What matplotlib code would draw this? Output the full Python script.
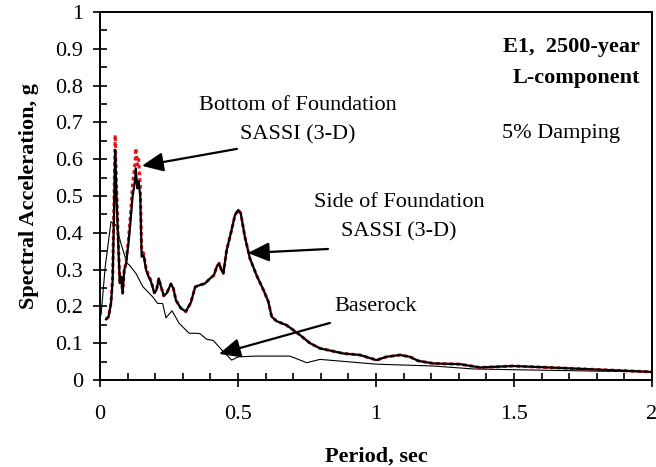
import matplotlib
matplotlib.use("Agg")
import matplotlib.pyplot as plt
from matplotlib.ticker import MultipleLocator

plt.rcParams["font.family"] = ["Liberation Serif", "DejaVu Serif"]
plt.rcParams["font.size"] = 16

# response spectra, 5% damping
periods = [0.022, 0.031, 0.040, 0.046, 0.052, 0.055, 0.060, 0.068, 0.072, 0.077,
           0.082, 0.088, 0.094, 0.103, 0.110, 0.118, 0.127, 0.130, 0.135, 0.140,
           0.146, 0.151, 0.158, 0.167, 0.176, 0.185, 0.197, 0.205, 0.213, 0.221,
           0.231, 0.242, 0.257, 0.266, 0.275, 0.293, 0.311, 0.329, 0.345, 0.362,
           0.380, 0.399, 0.413, 0.423, 0.432, 0.441, 0.447, 0.459, 0.477, 0.489,
           0.501, 0.510, 0.525, 0.543, 0.567, 0.592, 0.610, 0.622, 0.640, 0.676,
           0.700, 0.725, 0.761, 0.797, 0.840, 0.882, 0.942, 1.002, 1.038, 1.087,
           1.123, 1.153, 1.208, 1.304, 1.377, 1.497, 1.594, 1.691, 1.812, 2.000]

side_sa = [0.165, 0.172, 0.208, 0.272, 0.498, 0.625, 0.498, 0.335, 0.263, 0.281,
           0.236, 0.299, 0.313, 0.371, 0.426, 0.498, 0.543, 0.575, 0.521, 0.540,
           0.498, 0.335, 0.339, 0.299, 0.281, 0.267, 0.236, 0.245, 0.276, 0.254,
           0.229, 0.236, 0.261, 0.249, 0.217, 0.195, 0.186, 0.210, 0.253, 0.258,
           0.262, 0.276, 0.285, 0.308, 0.317, 0.297, 0.290, 0.353, 0.408, 0.448,
           0.462, 0.453, 0.389, 0.331, 0.285, 0.245, 0.213, 0.172, 0.160, 0.149,
           0.136, 0.122, 0.100, 0.086, 0.079, 0.072, 0.068, 0.054, 0.063, 0.068,
           0.063, 0.052, 0.045, 0.043, 0.034, 0.038, 0.035, 0.032, 0.028, 0.022]

bottom_sa = [0.165, 0.172, 0.210, 0.285, 0.530, 0.666, 0.525, 0.345, 0.263, 0.281,
             0.236, 0.299, 0.318, 0.380, 0.445, 0.530, 0.590, 0.630, 0.585, 0.600,
             0.530, 0.350, 0.345, 0.305, 0.285, 0.270, 0.238, 0.245, 0.276, 0.254,
             0.229, 0.236, 0.261, 0.249, 0.217, 0.195, 0.186, 0.210, 0.253, 0.258,
             0.262, 0.276, 0.285, 0.308, 0.317, 0.297, 0.290, 0.353, 0.408, 0.448,
             0.462, 0.453, 0.389, 0.331, 0.285, 0.245, 0.213, 0.172, 0.160, 0.149,
             0.136, 0.122, 0.100, 0.086, 0.079, 0.072, 0.068, 0.054, 0.063, 0.068,
             0.063, 0.052, 0.045, 0.043, 0.034, 0.038, 0.035, 0.032, 0.028, 0.022]

base_periods = [0.004, 0.019, 0.040, 0.058, 0.076, 0.098, 0.106, 0.130, 0.155, 0.191,
                0.209, 0.227, 0.239, 0.261, 0.287, 0.323, 0.348, 0.362, 0.386, 0.411,
                0.441, 0.477, 0.501, 0.567, 0.688, 0.749, 0.797, 1.002, 1.208, 1.353,
                1.497, 1.810, 2.000]
base_sa = [0.177, 0.308, 0.430, 0.421, 0.371, 0.317, 0.313, 0.290, 0.254, 0.226,
           0.208, 0.208, 0.169, 0.188, 0.154, 0.127, 0.127, 0.126, 0.111, 0.107,
           0.082, 0.054, 0.063, 0.065, 0.065, 0.047, 0.056, 0.043, 0.038, 0.030,
           0.028, 0.024, 0.022]

fig = plt.figure(figsize=(6.56, 4.67), dpi=100)
ax = fig.add_axes([0.1524, 0.1863, 0.8415, 0.788])

ax.plot(base_periods, base_sa, color="black", lw=0.8)
ax.plot(periods, bottom_sa, color="#e8121b", lw=2.2, ls=(0, (1.2, 1.0)))
ax.plot(periods, side_sa, color="black", lw=1.6)

ax.set_xlim(0, 2)
ax.set_ylim(0, 1)
ax.xaxis.set_major_locator(MultipleLocator(0.5))
ax.xaxis.set_minor_locator(MultipleLocator(0.1))
ax.yaxis.set_major_locator(MultipleLocator(0.1))
ax.yaxis.set_minor_locator(MultipleLocator(0.05))
ax.xaxis.set_major_formatter(plt.FuncFormatter(lambda v, p: f"{v:g}"))
ax.yaxis.set_major_formatter(plt.FuncFormatter(lambda v, p: f"{v:g}"))

ax.tick_params(which="major", direction="inout", length=10, width=1.2)
ax.tick_params(which="minor", direction="in", length=5, width=1.2)
ax.tick_params(axis="x", which="major", pad=13)
ax.tick_params(axis="y", which="major", pad=7)
for sp in ax.spines.values():
    sp.set_linewidth(1.4)

ax.set_xlabel("Period, sec", fontweight="bold", labelpad=16)
ax.set_ylabel("Spectral Acceleration, g", fontweight="bold", labelpad=12)

# captions
ax.text(0.717, 0.745, "Bottom of Foundation", ha="center", va="center")
ax.text(0.717, 0.666, "SASSI (3-D)", ha="center", va="center")
ax.text(1.083, 0.481, "Side of Foundation", ha="center", va="center")
ax.text(1.083, 0.402, "SASSI (3-D)", ha="center", va="center")
ax.text(0.998, 0.201, "Baserock", ha="center", va="center")
ax.text(1.957, 0.905, "E1,  2500-year", ha="right", va="center", fontweight="bold")
ax.text(1.957, 0.821, "L-component", ha="right", va="center", fontweight="bold")
ax.text(1.670, 0.671, "5% Damping", ha="center", va="center")

arrow = dict(arrowstyle="-|>,head_length=1.0,head_width=0.45", color="black",
             lw=1.6, mutation_scale=13, shrinkA=0, shrinkB=0)
ax.annotate("", xy=(0.152, 0.582), xytext=(0.496, 0.628), arrowprops=arrow)
ax.annotate("", xy=(0.536, 0.345), xytext=(0.826, 0.356), arrowprops=arrow)
ax.annotate("", xy=(0.431, 0.071), xytext=(0.833, 0.155), arrowprops=arrow)

fig.savefig("out.png", dpi=100)
